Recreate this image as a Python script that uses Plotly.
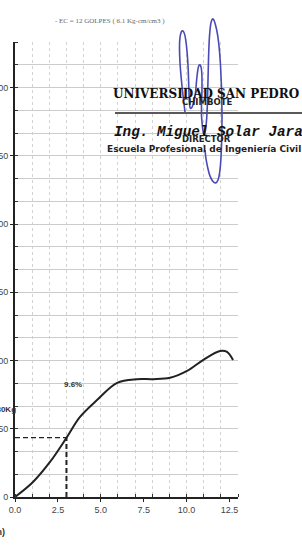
import plotly.graph_objects as go

# ---- data ----
penetration_mm = [0.0, 1.05, 2.04, 3.0, 3.79, 4.78, 5.95, 7.11, 8.05, 9.04, 10.03, 10.96, 11.95, 12.36, 12.71]
load_kg = [0, 33, 77, 130, 176, 213, 251, 259, 259, 262, 277, 301, 321, 319, 301]
cbr_pen = 3.0
cbr_load = 130.6
cbr_label = "9.6%"
load_label = "130Kg"
x_ticks = [0, 2.5, 5.0, 7.5, 10.0, 12.5]
x_tick_text = ["0.0", "2.5", "5.0", "7.5", "10.0", "12.5"]
y_ticks = [0, 150, 300, 450, 600, 750, 900]
y_tick_text = ["0", "150", "300", "450", "600", "750", "900"]

W, H = 302, 551
L, R, T, B = 15, 238, 42, 497


def px(x):
    return (x - L) / (R - L)


def py(y):
    return (B - y) / (B - T)


fig = go.Figure()

fig.add_trace(go.Scatter(x=penetration_mm, y=load_kg, mode="lines",
                         line=dict(color="#222222", width=2, shape="spline", smoothing=1.0),
                         hoverinfo="skip", showlegend=False))
fig.add_trace(go.Scatter(x=[0, cbr_pen], y=[cbr_load, cbr_load], mode="lines",
                         line=dict(color="#222222", width=1.4, dash="5px,3px"),
                         showlegend=False))
fig.add_trace(go.Scatter(x=[cbr_pen, cbr_pen], y=[0, cbr_load], mode="lines",
                         line=dict(color="#222222", width=2, dash="5px,3px"),
                         showlegend=False))

fig.add_annotation(x=3.38, y=248, xref="x", yref="y", text="<b>" + cbr_label + "</b>",
                   showarrow=False, font=dict(family="Arial", size=8, color="#333"))

# partially cut labels at the left edge
fig.add_annotation(x=px(18), y=py(416), xref="paper", yref="paper", xanchor="right",
                   text="<b>" + load_label + "</b>", showarrow=False,
                   font=dict(family="Arial", size=8, color="#333"))
fig.add_annotation(x=px(7), y=py(539), xref="paper", yref="paper", xanchor="right",
                   text="<b>(mm)</b>", showarrow=False,
                   font=dict(family="Arial", size=9, color="#333"))

# header text
fig.add_annotation(x=px(110), y=py(15), xref="paper", yref="paper", xanchor="center",
                   text="- EC = 12 GOLPES ( 6.1 Kg-cm/cm3 )", showarrow=False,
                   font=dict(family="Liberation Serif", size=7, color="#666"))

# stamp
fig.add_annotation(x=px(111), y=py(84.5), xref="paper", yref="paper", xanchor="left",
                   text="<b>UNIVERSIDAD SAN PEDRO</b>", showarrow=False,
                   font=dict(family="DejaVu Serif", size=12, color="#111"))
fig.add_annotation(x=px(207), y=py(95), xref="paper", yref="paper", xanchor="center",
                   text="<b>CHIMBOTE</b>", showarrow=False,
                   font=dict(family="DejaVu Sans", size=8.5, color="#222"))
fig.add_annotation(x=px(112), y=py(122), xref="paper", yref="paper", xanchor="left",
                   text="<b><i>Ing. Miguel Solar Jara</i></b>", showarrow=False,
                   font=dict(family="Liberation Mono", size=14.3, color="#111"))
fig.add_annotation(x=px(206), y=py(131.5), xref="paper", yref="paper", xanchor="center",
                   text="<b>DIRECTOR</b>", showarrow=False,
                   font=dict(family="DejaVu Sans", size=8.5, color="#222"))
fig.add_annotation(x=px(105), y=py(141.5), xref="paper", yref="paper", xanchor="left",
                   text="<b>Escuela Profesional de Ingeniería Civil</b>", showarrow=False,
                   font=dict(family="DejaVu Sans", size=9, color="#222"))
fig.add_shape(type="line", xref="paper", yref="paper", x0=px(115), x1=px(302),
              y0=py(113), y1=py(113), line=dict(color="#222", width=1.5))

# signature (decoration)
sig_px = [(185, 112), (181, 80), (179, 45), (181, 30), (185, 32), (188, 60), (189, 95), (190, 112),
          (195, 100), (197, 75), (199, 63), (202, 68), (202, 95), (201, 115), (204, 140), (207, 120),
          (208, 80), (209, 40), (211, 20), (214, 18), (219, 40), (222, 90), (222, 140), (220, 175),
          (216, 185), (210, 178), (206, 160), (205, 150)]
pts = [(px(a), py(b)) for a, b in sig_px]
path = "M %.4f,%.4f" % pts[0]
for i in range(1, len(pts) - 1):
    mx = (pts[i][0] + pts[i + 1][0]) / 2
    my = (pts[i][1] + pts[i + 1][1]) / 2
    path += " Q %.4f,%.4f %.4f,%.4f" % (pts[i][0], pts[i][1], mx, my)
path += " L %.4f,%.4f" % pts[-1]
fig.add_shape(type="path", xref="paper", yref="paper", path=path,
              line=dict(color="#4a4ab4", width=1.6))

fig.update_xaxes(range=[0, 13], tickvals=x_ticks, ticktext=x_tick_text, showgrid=False,
                 automargin=False,
                 zeroline=False, showline=True, linecolor="#222", linewidth=2,
                 ticks="outside", ticklen=3, tickcolor="#222",
                 tickfont=dict(family="Arial", size=9, color="#444"),
                 minor=dict(dtick=1, tick0=0, showgrid=True, gridcolor="#d2d2d2", gridwidth=1,
                            griddash="dot", ticks="inside", ticklen=3, tickcolor="#333"))
fig.update_yaxes(range=[0, 1000], tickvals=y_ticks, ticktext=y_tick_text, showgrid=False,
                 automargin=False,
                 zeroline=False, showline=True, linecolor="#222", linewidth=2,
                 ticks="outside", ticklen=3, tickcolor="#222",
                 tickfont=dict(family="Arial", size=9, color="#444"),
                 minor=dict(dtick=50, tick0=0, showgrid=True, gridcolor="#cccccc", gridwidth=1,
                            ticks="inside", ticklen=3, tickcolor="#333"))

fig.update_layout(width=W, height=H, margin=dict(l=L, r=W - R, t=T, b=H - B, pad=0, autoexpand=False),
                  paper_bgcolor="white", plot_bgcolor="white", showlegend=False)

fig.write_html("out.html", config={"displayModeBar": False},
               post_script="document.body.style.margin='0';document.body.style.overflow='hidden';")
